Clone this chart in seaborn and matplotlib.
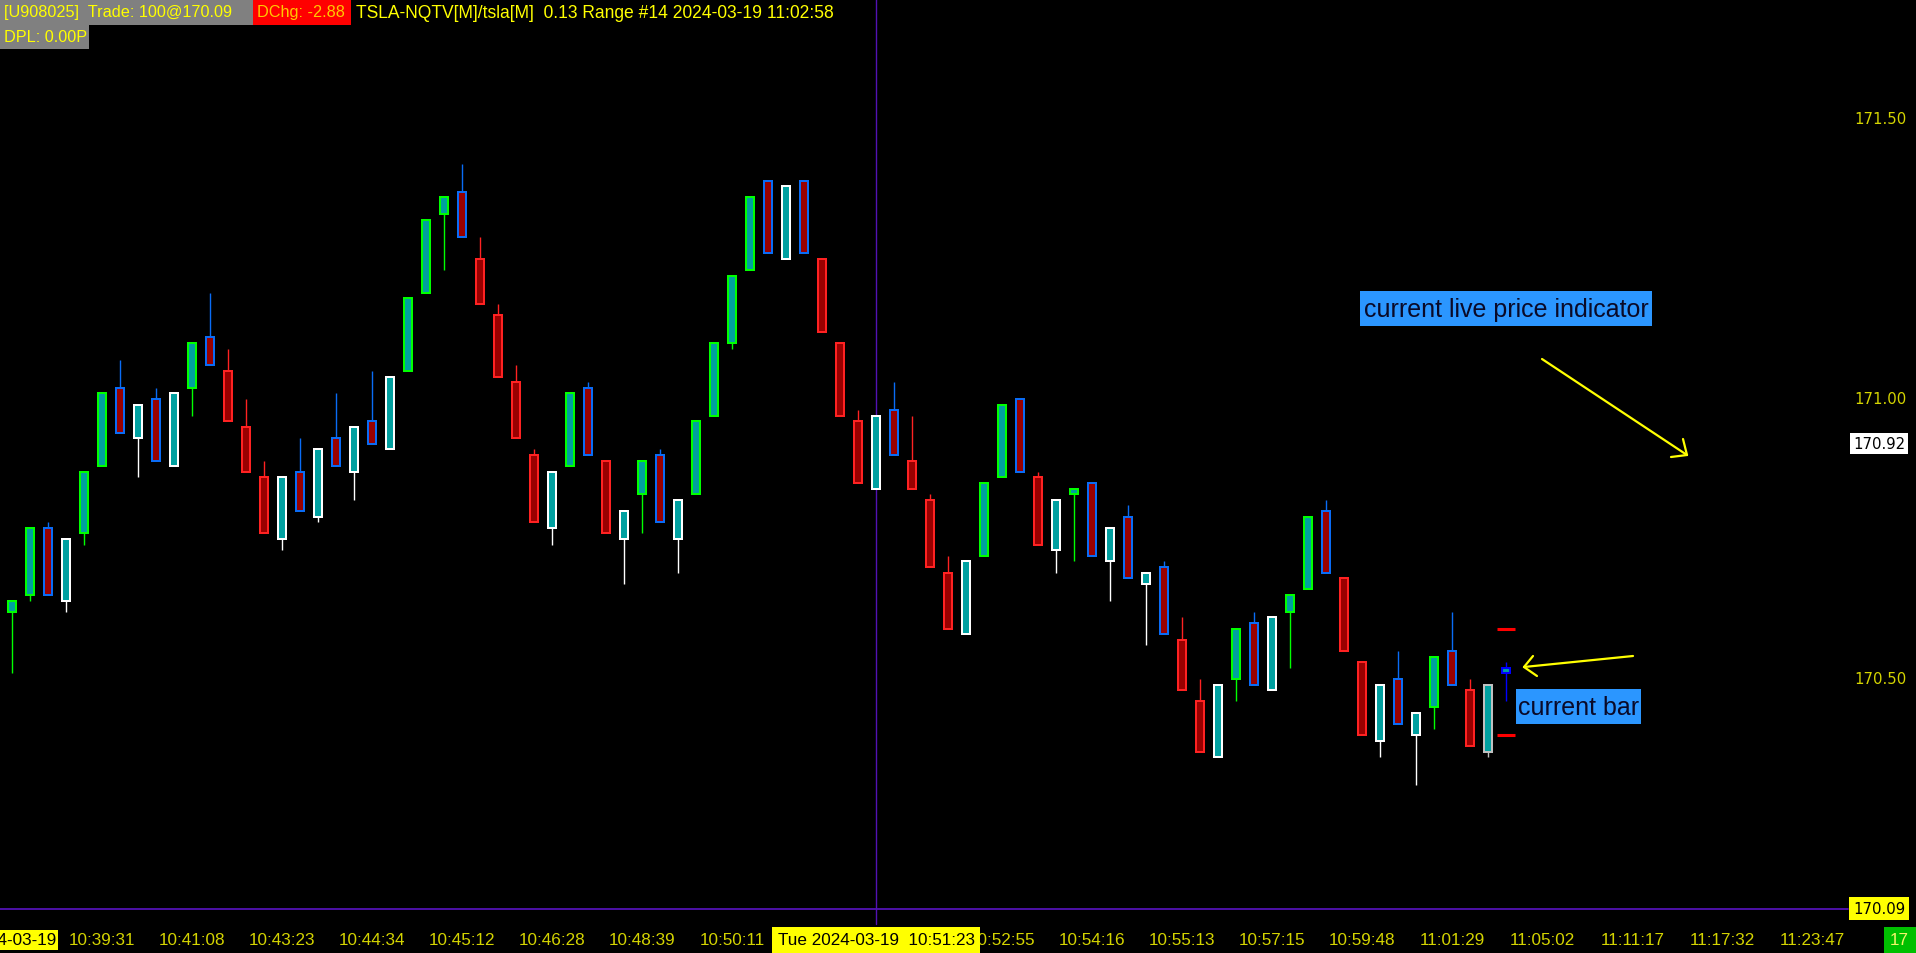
import numpy as np
import pandas as pd
import seaborn as sns
import matplotlib
matplotlib.use("Agg")
import matplotlib.pyplot as plt
import matplotlib.transforms as mtransforms
from matplotlib.patches import Rectangle
from matplotlib.lines import Line2D
from matplotlib import font_manager

# ---------------- data ----------------
opens = [170.62, 170.65, 170.77, 170.64, 170.76, 170.88, 171.02, 170.93, 171.00, 170.88,
         171.02, 171.11, 171.05, 170.95, 170.86, 170.75, 170.87, 170.79, 170.93, 170.87,
         170.96, 170.91, 171.05, 171.19, 171.33, 171.37, 171.25, 171.15, 171.03, 170.90,
         170.77, 170.88, 171.02, 170.89, 170.75, 170.83, 170.90, 170.75, 170.83, 170.97,
         171.10, 171.23, 171.39, 171.25, 171.39, 171.25, 171.10, 170.96, 170.84, 170.98,
         170.89, 170.82, 170.69, 170.58, 170.72, 170.86, 171.00, 170.86, 170.73, 170.83,
         170.85, 170.71, 170.79, 170.67, 170.70, 170.57, 170.46, 170.36, 170.50, 170.60,
         170.48, 170.62, 170.66, 170.80, 170.68, 170.53, 170.39, 170.50, 170.40, 170.45,
         170.55, 170.48, 170.37, 170.51]
highs = [170.64, 170.77, 170.78, 170.75, 170.87, 171.01, 171.07, 170.99, 171.02, 171.01,
         171.10, 171.19, 171.09, 171.00, 170.89, 170.86, 170.93, 170.91, 171.01, 170.95,
         171.05, 171.04, 171.18, 171.32, 171.36, 171.42, 171.29, 171.17, 171.06, 170.91,
         170.87, 171.01, 171.03, 170.89, 170.80, 170.89, 170.91, 170.82, 170.96, 171.10,
         171.22, 171.36, 171.39, 171.38, 171.39, 171.25, 171.10, 170.98, 170.97, 171.03,
         170.97, 170.83, 170.72, 170.71, 170.85, 170.99, 171.00, 170.87, 170.82, 170.84,
         170.85, 170.77, 170.81, 170.69, 170.71, 170.61, 170.50, 170.49, 170.59, 170.62,
         170.61, 170.65, 170.79, 170.82, 170.68, 170.53, 170.49, 170.55, 170.44, 170.54,
         170.62, 170.50, 170.49, 170.53]
lows = [170.51, 170.64, 170.65, 170.62, 170.74, 170.88, 170.94, 170.86, 170.89, 170.88,
        170.97, 171.06, 170.96, 170.87, 170.76, 170.73, 170.80, 170.78, 170.88, 170.82,
        170.92, 170.91, 171.05, 171.19, 171.23, 171.29, 171.17, 171.04, 170.93, 170.78,
        170.74, 170.88, 170.90, 170.76, 170.67, 170.76, 170.78, 170.69, 170.83, 170.97,
        171.09, 171.23, 171.26, 171.25, 171.26, 171.12, 170.97, 170.85, 170.84, 170.90,
        170.84, 170.70, 170.59, 170.58, 170.72, 170.86, 170.87, 170.74, 170.69, 170.71,
        170.72, 170.64, 170.68, 170.56, 170.58, 170.48, 170.37, 170.36, 170.46, 170.49,
        170.48, 170.52, 170.66, 170.69, 170.55, 170.40, 170.36, 170.42, 170.31, 170.41,
        170.49, 170.38, 170.36, 170.46]
closes = [170.64, 170.77, 170.65, 170.75, 170.87, 171.01, 170.94, 170.99, 170.89, 171.01,
          171.10, 171.06, 170.96, 170.87, 170.76, 170.86, 170.80, 170.91, 170.88, 170.95,
          170.92, 171.04, 171.18, 171.32, 171.36, 171.29, 171.17, 171.04, 170.93, 170.78,
          170.87, 171.01, 170.90, 170.76, 170.80, 170.89, 170.78, 170.82, 170.96, 171.10,
          171.22, 171.36, 171.26, 171.38, 171.26, 171.12, 170.97, 170.85, 170.97, 170.90,
          170.84, 170.70, 170.59, 170.71, 170.85, 170.99, 170.87, 170.74, 170.82, 170.84,
          170.72, 170.77, 170.68, 170.69, 170.58, 170.48, 170.37, 170.49, 170.59, 170.49,
          170.61, 170.65, 170.79, 170.69, 170.55, 170.40, 170.49, 170.42, 170.44, 170.54,
          170.49, 170.38, 170.49, 170.52]

tick_index = [0, 5, 10, 15, 20, 25, 30, 35, 40, 55, 60, 65, 70, 75, 80, 85, 90, 95, 100]
tick_labels = ["2024-03-19", "10:39:31", "10:41:08", "10:43:23", "10:44:34", "10:45:12",
               "10:46:28", "10:48:39", "10:50:11", "10:52:55", "10:54:16", "10:55:13",
               "10:57:15", "10:59:48", "11:01:29", "11:05:02", "11:11:17", "11:17:32",
               "11:23:47"]
axis_prices = [171.50, 171.00, 170.50]
ref_price = 170.92
cross_index = 48
cross_price = 170.09
cross_time_label = "Tue 2024-03-19  10:51:23"
projection_prices = [170.59, 170.40]   # projected range high / low of current bar

header_gray = "[U908025]  Trade: 100@170.09"
header_red = "DChg: -2.88"
header_text = "TSLA-NQTV[M]/tsla[M]  0.13 Range #14 2024-03-19 11:02:58"
header_line2 = "DPL: 0.00P"
bar_count_label = "17"

# ---------------- fonts ----------------
names = {f.name for f in font_manager.fontManager.ttflist}
if "Liberation Sans Narrow" in names:
    NARROW, NSCALE = "Liberation Sans Narrow", 1.0
else:
    NARROW, NSCALE = "Liberation Sans", 0.82

sns.set_theme(style="dark", rc={"axes.facecolor": "black", "figure.facecolor": "black",
                                "savefig.facecolor": "black"})
plt.rcParams["font.family"] = ["DejaVu Sans"]

W, H = 1916, 954
fig = plt.figure(figsize=(W / 100, H / 100), dpi=100)
ax = fig.add_axes([0, 0, 1, 1])
ax.set_facecolor("black")
ax.set_axis_off()

# pixel -> figure transform (y downward like the screenshot)
pix = mtransforms.Affine2D().scale(1 / W, -1 / H).translate(0, 1) + fig.transFigure

# data scale: 18 px per bar, 560 px per 1.00 price
ax.set_xlim(-12.3 / 18, (W - 12.3) / 18)
ax.set_ylim(171 - (H - 400) / 560, 171 + 400 / 560)

df = pd.DataFrame({"open": opens, "high": highs, "low": lows, "close": closes})
df["x"] = np.arange(len(df))
df["up"] = df["close"] > df["open"]
prev_up = df["up"].shift(1).fillna(True).astype(bool)

edge = []
for up, pu in zip(df["up"], prev_up):
    if up:
        edge.append("#00FF00" if pu else "#FFFFFF")
    else:
        edge.append("#0A6CF5" if pu else "#FF2222")
edge[-2] = "#C0C0C0"   # last completed bar
edge[-1] = "#0000FF"   # live bar
df["edge"] = edge
df["fill"] = np.where(df["up"], "#00A0A0", "#990000")

# wicks
ax.vlines(df["x"], df["low"], df["high"], colors=df["edge"], linewidth=1.0, zorder=2)
# bodies
bottom = df[["open", "close"]].min(axis=1)
height = (df["close"] - df["open"]).abs()
ax.bar(df["x"], height, bottom=bottom, width=8 / 18, color=df["fill"],
       edgecolor=df["edge"], linewidth=1.45, zorder=3)

# projected range markers for the live bar
last = df["x"].iloc[-1]
ax.hlines(projection_prices, last - 0.5, last + 0.5, colors="#FF0000", linewidth=2.2, zorder=3)

# crosshair
ax.axvline(cross_index, ymin=(H - 925) / H, ymax=1, color="#5212B4", linewidth=1.0, zorder=1)
ax.axhline(cross_price, xmin=0, xmax=1848 / W, color="#5212B4", linewidth=1.3, zorder=1)

# ---------------- price axis ----------------
ypx = mtransforms.blended_transform_factory(pix, ax.transData)
axis_col = "#D4D400"
for p in axis_prices:
    ax.text(1907, p, f"{p:.2f}", transform=ypx, ha="right", va="center",
            color=axis_col, fontsize=10.7, family="DejaVu Sans", clip_on=False)
ax.text(1905, ref_price, f"{ref_price:.2f}", transform=ypx, ha="right", va="center",
        color="black", fontsize=10.7, family="DejaVu Sans",
        bbox=dict(facecolor="white", edgecolor="none", boxstyle="square,pad=0.2"))
ax.text(1905, cross_price, f"{cross_price:.2f}", transform=ypx, ha="right", va="center",
        color="black", fontsize=10.7, family="DejaVu Sans", zorder=6,
        bbox=dict(facecolor="#FFFF00", edgecolor="none", boxstyle="square,pad=0.25"))

# ---------------- time axis ----------------
xpx = mtransforms.blended_transform_factory(ax.transData, pix)
tsize = 15 * NSCALE
for i, lab in zip(tick_index, tick_labels):
    if i == 0:
        ax.text(i, 941, lab, transform=xpx, ha="center", va="center", color="black",
                fontsize=tsize, family=NARROW, zorder=5,
                bbox=dict(facecolor="#FFFF00", edgecolor="none", boxstyle="square,pad=0.15"))
    else:
        ax.text(i, 941, lab, transform=xpx, ha="center", va="center", color=axis_col,
                fontsize=tsize, family=NARROW, zorder=5)
ax.text(cross_index, 941, cross_time_label, transform=xpx, ha="center", va="center",
        color="black", fontsize=tsize, family=NARROW, zorder=10,
        bbox=dict(facecolor="#FFFF00", edgecolor="none", boxstyle="square,pad=0.33"))

ax.add_patch(Rectangle((1884, 928), 32, 26, transform=pix, facecolor="#00C000",
                       edgecolor="none", clip_on=False, zorder=6))
ax.text(1899, 941, bar_count_label, transform=pix, ha="center", va="center",
        color="#F4F46A", fontsize=tsize, family=NARROW, zorder=7)

# ---------------- header ----------------
hbox = 14 * NSCALE * 1.02
hfree = 14 * NSCALE * 1.1
ax.add_patch(Rectangle((0, 0), 253, 26, transform=pix, facecolor="#808080",
                       edgecolor="none", clip_on=False, zorder=6))
ax.add_patch(Rectangle((253, 0), 98, 26, transform=pix, facecolor="#FF0000",
                       edgecolor="none", clip_on=False, zorder=6))
ax.add_patch(Rectangle((0, 26), 89, 24, transform=pix, facecolor="#808080",
                       edgecolor="none", clip_on=False, zorder=6))
ax.text(4, 13, header_gray, transform=pix, ha="left", va="center", color="#FFFF00",
        fontsize=hbox, family=NARROW, zorder=7)
ax.text(257, 13, header_red, transform=pix, ha="left", va="center", color="#FFC800",
        fontsize=hbox, family=NARROW, zorder=7)
ax.text(356, 13, header_text, transform=pix, ha="left", va="center", color="#FFFF00",
        fontsize=hfree, family=NARROW, zorder=7)
ax.text(4, 38, header_line2, transform=pix, ha="left", va="center", color="#FFFF00",
        fontsize=hbox, family=NARROW, zorder=7)

# ---------------- annotations ----------------
blue = "#2B96FF"
ax.add_patch(Rectangle((1360, 292), 292, 35, transform=pix, facecolor=blue,
                       edgecolor="none", clip_on=False, zorder=6))
ax.text(1506, 310, "current live price indicator", transform=pix, ha="center", va="center",
        color="#0A0A28", fontsize=18, family="Liberation Sans", zorder=7)
ax.add_patch(Rectangle((1516, 690), 125, 35, transform=pix, facecolor=blue,
                       edgecolor="none", clip_on=False, zorder=6))
ax.text(1578.5, 708, "current bar", transform=pix, ha="center", va="center",
        color="#0A0A28", fontsize=18, family="Liberation Sans", zorder=7)

def arrow(x0, y0, x1, y1, h1, h2):
    for seg in [((x0, x1), (y0, y1)), ((x1, h1[0]), (y1, h1[1])), ((x1, h2[0]), (y1, h2[1]))]:
        ax.add_line(Line2D(seg[0], seg[1], transform=pix, color="#FFFF00",
                           linewidth=1.6, clip_on=False, zorder=8))

arrow(1542, 360, 1687, 456, (1683, 440), (1671, 458))
arrow(1633, 657, 1524, 668, (1533, 657), (1537, 677))

fig.savefig("out.png", dpi=100, facecolor="black")
